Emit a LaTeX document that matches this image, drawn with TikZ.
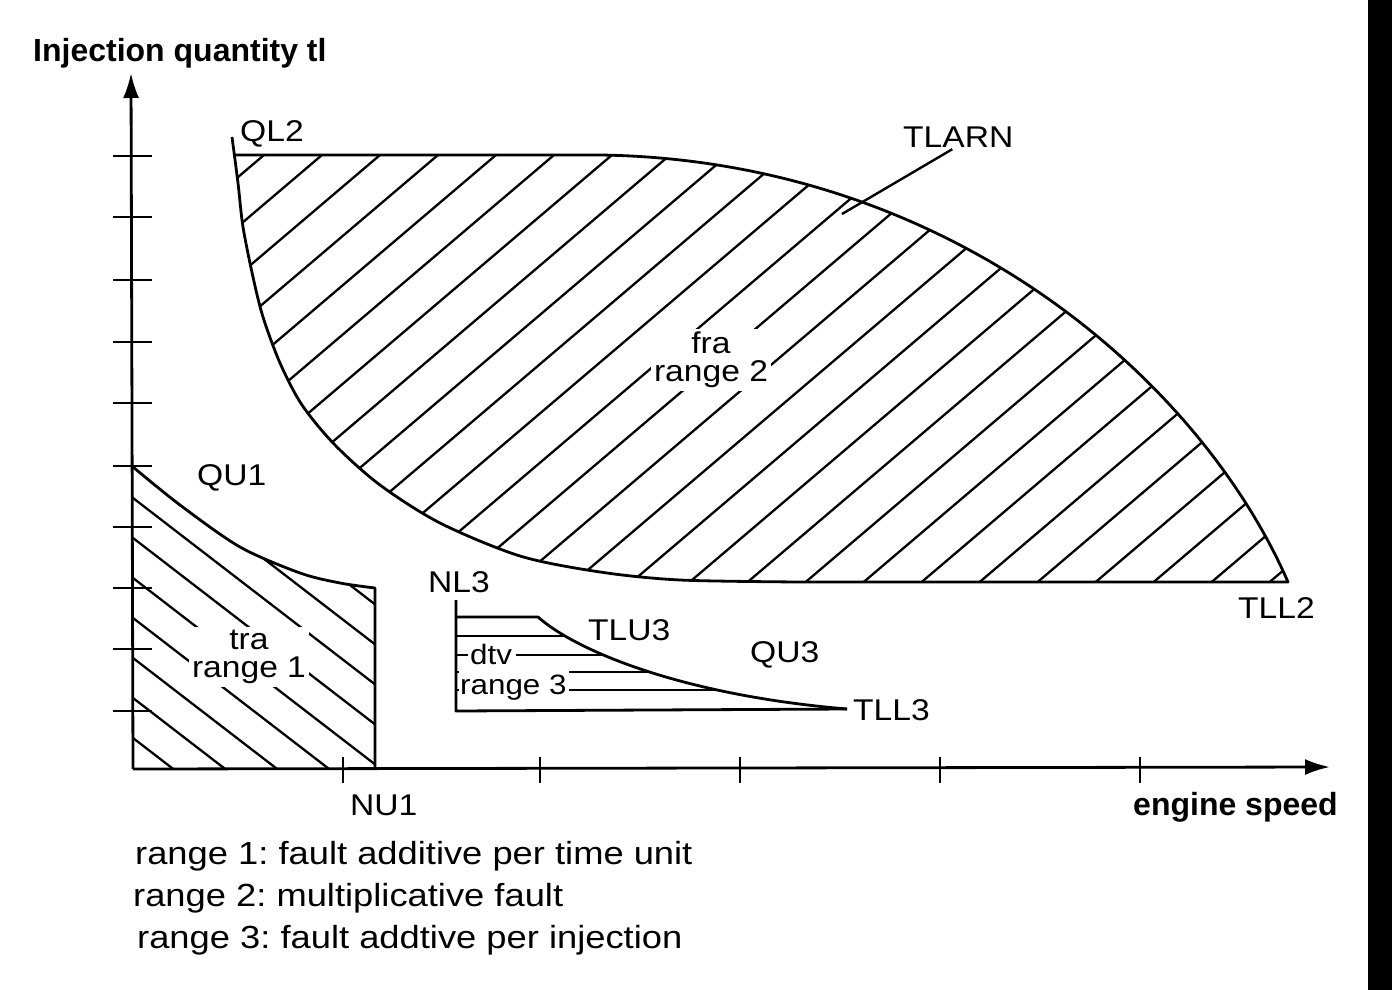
\documentclass[tikz,border=0pt]{standalone}
\usepackage{fontspec}
\setmainfont{Liberation Sans}
\newfontfamily\scanfont{Liberation Sans}[FakeStretch=1.12]
\newfontfamily\legendfont{Liberation Sans}[FakeStretch=1.135]
\usetikzlibrary{arrows.meta}
\frenchspacing

\begin{document}
\begin{tikzpicture}[
            x=1pt, y=-1pt,
            >={Latex[length=25pt,width=16pt]},
            axis/.style={line width=2.8pt},
            tick/.style={line width=2.6pt},
            border/.style={line width=2.8pt, line join=round},
            hatch/.style={line width=2.3pt},
            lbl/.style={font=\scanfont\fontsize{30}{30}\selectfont, inner sep=0pt, anchor=base west},
            area/.style={font=\scanfont\fontsize{30}{28}\selectfont, fill=white, inner sep=3pt, align=center},
            axlbl/.style={font=\bfseries\fontsize{32}{32}\selectfont, inner sep=0pt, anchor=base west},
            legend/.style={font=\legendfont\fontsize{32}{32}\selectfont, inner sep=0pt, anchor=base west},
        ]
            \useasboundingbox (0,0) rectangle (1392,990);
            \fill[black] (1368,0) rectangle (1392,990);

            \coordinate (O) at (133,769);
            \coordinate (ytip) at (131,73);
            \coordinate (xtip) at (1330,767);

            % range 2
            \begin{scope}
                \clip (235,155) -- (600,155) .. controls (950,160) and (1200,380) .. (1288,582) -- (800,582)
                    -- plot[smooth] coordinates {(800,582) (680,580) (600,572) (520,556) (440,523) (380,485) (335,445) (302,405) (280,363) (263,317) (253,277) (243,227) (238,183) (233,155)} -- cycle;
                \foreach \i in {-2,...,26}
                    \draw[hatch] ({322+58*\i+500},-270) -- ({322+58*\i-600},665);
            \end{scope}
            \draw[border] (235,155) -- (600,155) .. controls (950,160) and (1200,380) .. (1288,582) -- (800,582);
            \draw[border] plot[smooth] coordinates {(232,137) (238,183) (243,227) (253,277) (263,317) (280,363) (302,405) (335,445) (380,485) (440,523) (520,556) (600,572) (680,580) (800,582)};

            % range 1
            \begin{scope}
                \clip plot[smooth] coordinates {(133,467) (180,505) (240,547) (300,573) (340,583) (375,588)} -- (375,769) -- (133,769) -- cycle;
                \foreach \i in {-4,...,8}
                    \draw[hatch] (33,{421+40*\i}) -- (533,{806+40*\i});
            \end{scope}
            \draw[border] plot[smooth] coordinates {(133,467) (180,505) (240,547) (300,573) (340,583) (375,588)} -- (375,769);

            % range 3
            \node[lbl, font=\scanfont\fontsize{28}{28}\selectfont] (dtv3) at (470,664) {dtv};
            \node[lbl, font=\scanfont\fontsize{28}{28}\selectfont] (rng3) at (460,694) {range 3};
            \begin{scope}
                \clip (456,617) -- (538,617) .. controls (575,650) and (680,695) .. (847,709) -- (456,711) -- cycle;
                \draw[hatch] (456,636) -- (900,636);
                \draw[hatch] (456,655) -- (468,655) (516,655) -- (900,655);
                \foreach \y in {672,690}
                    \draw[hatch] (456,\y) -- (459,\y) (569,\y) -- (900,\y);
            \end{scope}
            \draw[border] (456,600) -- (456,711) -- (847,709);
            \draw[border] (456,617) -- (538,617) .. controls (575,650) and (680,695) .. (847,709);

            % axes
            \draw[axis,->] (O) -- (ytip);
            \draw[axis,->] (O) -- (xtip);
            \foreach \y in {156,217,280,342,403,466,527,588,649,711}
                \draw[tick] (113,\y) -- (152,\y);
            \foreach \x in {343,540,740,940,1140}
                \draw[tick] (\x,757) -- (\x,783);

            \node[axlbl] (ylab) at (33,62) {Injection quantity tl};
            \node[axlbl] (xlab) at (1133,815) {engine speed};

            \node[lbl] (ql2) at (240,141) {QL2};
            \node[lbl] (tlarn) at (903,147) {TLARN};
            \coordinate (tlarnend) at (842,214);
            \draw[line width=2.4pt] ([xshift=-6pt,yshift=-2pt]tlarn.south) -- (tlarnend);
            \node[lbl] (tll2) at (1238,618) {TLL2};
            \node[area] (fra2) at (711,360) {fra\\range 2};

            \node[lbl] (qu1) at (197,485) {QU1};
            \node[area] (tra1) at (249,657) {tra\\range 1};
            \node[lbl] (nu1) at (350,815) {NU1};

            \node[lbl] (nl3) at (428,592) {NL3};
            \node[lbl] (tlu3) at (588,640) {TLU3};
            \node[lbl] (qu3) at (750,662) {QU3};
            \node[lbl] (tll3) at (853,720) {TLL3};

            \node[legend] (leg1) at (135,864) {range 1: fault additive per time unit};
            \node[legend] (leg2) at (133,906) {range 2: multiplicative fault};
            \node[legend] (leg3) at (137,948) {range 3: fault addtive per injection};
        \end{tikzpicture}
\end{document}
